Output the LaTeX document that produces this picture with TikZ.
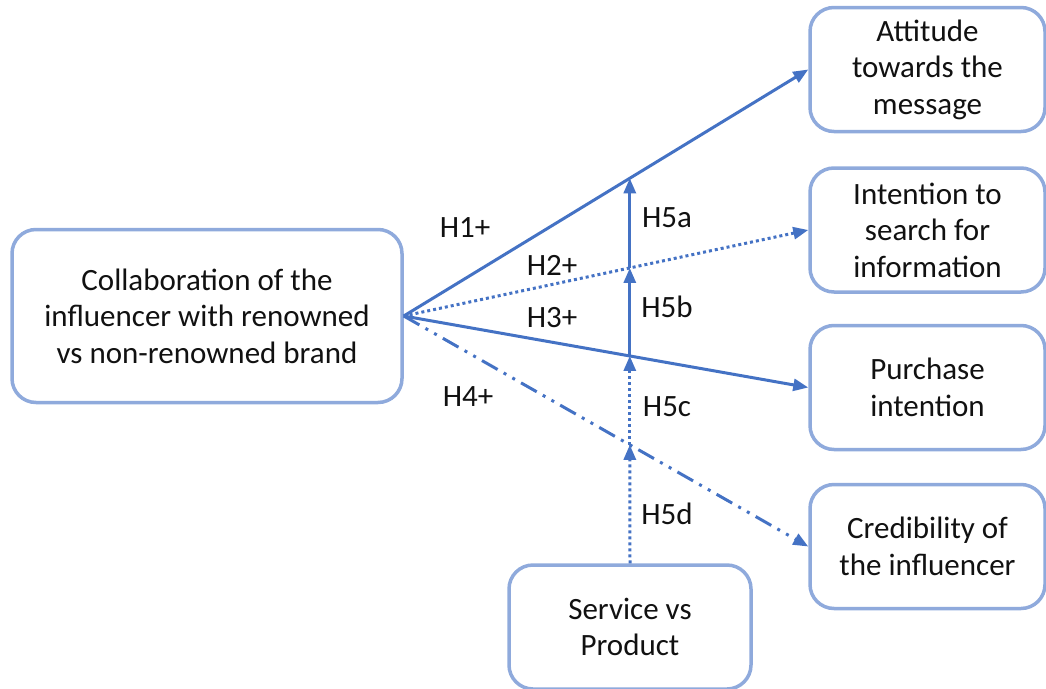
\documentclass[tikz,border=0pt]{standalone}
\usepackage{fontspec}
\setmainfont{Carlito}
\usetikzlibrary{arrows.meta,calc}
\definecolor{lineblue}{HTML}{4472C4}
\definecolor{boxblue}{HTML}{8FAADC}
\definecolor{txt}{HTML}{111111}
\tikzset{
    varbox/.style={draw=boxblue, line width=3.5pt, rounded corners=24pt, fill=white,
        align=center, text=txt, inner sep=0pt},
    hyp/.style={text=txt},
    path/.style={draw=lineblue, line width=3pt, -{Triangle[length=15pt,width=12pt]}},
    dots/.style={dash pattern=on 3pt off 3pt},
    dashdots/.style={dash pattern=on 18pt off 7pt on 3pt off 7pt on 3pt off 7pt}
}
\begin{document}
\begin{tikzpicture}[x=1pt, y=-1pt, font=\fontsize{31}{36.5}\selectfont]
    \useasboundingbox (0,0) rectangle (1046,688);
    % variables
    \node[varbox, minimum width=390pt, minimum height=173pt] (collab) at (207, 316) {Collaboration of the\\influencer with renowned\\vs non-renowned brand};
    \node[varbox, minimum width=235pt, minimum height=124pt] (att) at (927.5, 69.5) {Attitude\\towards the\\message};
    \node[varbox, minimum width=235pt, minimum height=124pt] (search) at (927.5, 230) {Intention to\\search for\\information};
    \node[varbox, minimum width=235pt, minimum height=124pt] (purch) at (927.5, 387.5) {Purchase\\intention};
    \node[varbox, minimum width=235pt, minimum height=124pt] (cred) at (927.5, 546.5) {Credibility of\\the influencer};
    \node[varbox, minimum width=242pt, minimum height=124pt] (serv) at (630, 627) {Service vs\\Product};
    % main paths
    \draw[path] (collab.east) -- (att.west);
    \draw[path, dots] (collab.east) -- (search.west);
    \draw[path] (collab.east) -- (purch.west);
    \draw[path, dashdots] (collab.east) -- (cred.west);
    % moderation points
    \coordinate (m1) at ($(collab.east)!0.5588!(att.west)$);
    \coordinate (m2) at ($(collab.east)!0.5588!(search.west)$);
    \coordinate (m3) at ($(collab.east)!0.5588!(purch.west)$);
    \coordinate (m4) at ($(collab.east)!0.5588!(cred.west)$);
    \draw[path, dots] (serv.north) -- (m4);
    \draw[path, dots] (m4) -- (m3);
    \draw[path] (m3) -- (m2);
    \draw[path] (m2) -- (m1);
    % labels
    \node[hyp] (h1) at (465, 228) {H1+};
    \node[hyp] (h2) at (552, 265) {H2+};
    \node[hyp] (h3) at (552, 318) {H3+};
    \node[hyp] (h4) at (468, 397) {H4+};
    \node[hyp] (h5a) at (667, 218) {H5a};
    \node[hyp] (h5b) at (667, 307) {H5b};
    \node[hyp] (h5c) at (667, 407) {H5c};
    \node[hyp] (h5d) at (667, 514) {H5d};
\end{tikzpicture}
\end{document}
